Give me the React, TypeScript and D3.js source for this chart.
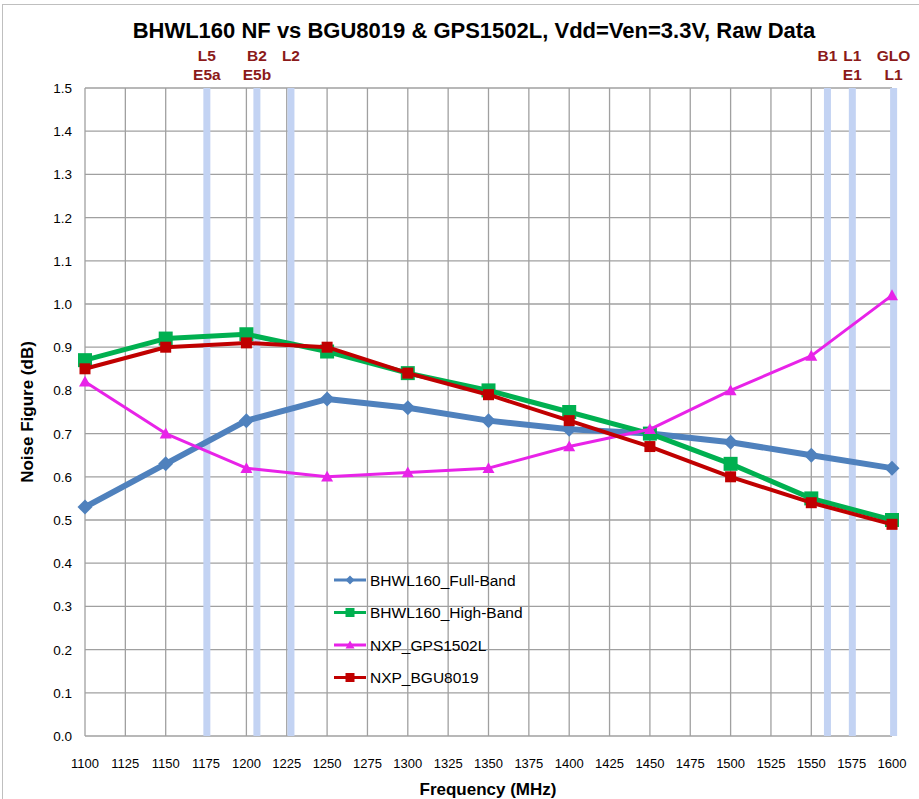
import React from "react";
import * as d3 from "d3";

const freqs = [1100, 1150, 1200, 1250, 1300, 1350, 1400, 1450, 1500, 1550, 1600];
const fullBand = [0.53, 0.63, 0.73, 0.78, 0.76, 0.73, 0.71, 0.7, 0.68, 0.65, 0.62];
const highBand = [0.87, 0.92, 0.93, 0.89, 0.84, 0.8, 0.75, 0.7, 0.63, 0.55, 0.5];
const gps1502 = [0.82, 0.7, 0.62, 0.6, 0.61, 0.62, 0.67, 0.71, 0.8, 0.88, 1.02];
const bgu8019 = [0.85, 0.9, 0.91, 0.9, 0.84, 0.79, 0.73, 0.67, 0.6, 0.54, 0.49];

const bands = [
  { f: 1175.5, label: ["L5", "E5a"] },
  { f: 1206.5, label: ["B2", "E5b"] },
  { f: 1227.6, label: ["L2"] },
  { f: 1560, label: ["B1"] },
  { f: 1575.42, label: ["L1", "E1"] },
  { f: 1601, label: ["GLO", "L1"] },
];

const xTicks = d3.range(1100, 1601, 25);
const yTicks = d3.range(0, 16).map((i) => i / 10);

const W = 919;
const H = 799;
const left = 85;
const right = 892;
const top = 88;
const bottom = 736;

const FONT = "'Liberation Sans', Arial, sans-serif";

type Marker = "diamond" | "square" | "triangle";
const series = [
  { name: "BHWL160_Full-Band", values: fullBand, color: "#4f81bd", width: 6, marker: "diamond" as Marker, size: 15 },
  { name: "BHWL160_High-Band", values: highBand, color: "#00b050", width: 5, marker: "square" as Marker, size: 14 },
  { name: "NXP_GPS1502L", values: gps1502, color: "#e823e8", width: 3, marker: "triangle" as Marker, size: 12 },
  { name: "NXP_BGU8019", values: bgu8019, color: "#c00000", width: 4, marker: "square" as Marker, size: 11 },
];

function markerPath(m: Marker, s: number) {
  const h = s / 2;
  if (m === "diamond") return `M0,${-h}L${h},0L0,${h}L${-h},0Z`;
  if (m === "square") return `M${-h},${-h}H${h}V${h}H${-h}Z`;
  return `M0,${-h}L${h},${h * 0.8}L${-h},${h * 0.8}Z`;
}

export default function App() {
  const x = d3.scaleLinear().domain([1100, 1600]).range([left, right]);
  const y = d3.scaleLinear().domain([0, 1.5]).range([bottom, top]);
  const line = d3
    .line<number>()
    .x((_, i) => x(freqs[i]))
    .y((d) => y(d));

  return (
    <svg
      width={W}
      height={H}
      style={{ position: "absolute", left: 0, top: 0, background: "#fff" }}
      fontFamily={FONT}
    >
      <rect x={2.5} y={4.5} width={W + 10} height={H + 10} fill="#fff" stroke="#bfbfbf" />

      <text x={474} y={38} textAnchor="middle" fontSize={22} fontWeight="bold" fill="#000">
        BHWL160 NF vs BGU8019 &amp; GPS1502L, Vdd=Ven=3.3V,  Raw Data
      </text>

      {/* grid */}
      {xTicks.map((t) => (
        <line key={"gx" + t} x1={x(t)} x2={x(t)} y1={top} y2={bottom} stroke="#a0a0a0" strokeWidth={1.3} />
      ))}
      {yTicks.map((t) => (
        <line key={"gy" + t} x1={left} x2={right} y1={y(t)} y2={y(t)} stroke="#a0a0a0" strokeWidth={1.3} />
      ))}

      {/* bands */}
      {bands.map((b) => (
        <g key={b.f}>
          <rect x={x(b.f) - 3.5} y={top} width={7} height={bottom - top} fill="#c3d3f3" />
          {b.label.map((l, i) => (
            <text
              key={l}
              x={x(b.f)}
              y={61 + i * 19}
              textAnchor="middle"
              fontSize={15.5}
              fontWeight="bold"
              fill="#8b1a1a"
            >
              {l}
            </text>
          ))}
        </g>
      ))}

      {/* axis labels */}
      {yTicks.map((t) => (
        <text key={"yl" + t} x={72} y={y(t) + 5} textAnchor="end" fontSize={13.5} fill="#000">
          {t.toFixed(1)}
        </text>
      ))}
      {xTicks.map((t) => (
        <text key={"xl" + t} x={x(t)} y={768} textAnchor="middle" fontSize={13} fill="#000">
          {t}
        </text>
      ))}
      <text x={488} y={795} textAnchor="middle" fontSize={17} fontWeight="bold">
        Frequency (MHz)
      </text>
      <text
        transform={`translate(33, ${(top + bottom) / 2}) rotate(-90)`}
        textAnchor="middle"
        fontSize={17}
        fontWeight="bold"
      >
        Noise Figure (dB)
      </text>

      {/* series */}
      {series.map((s) => (
        <g key={s.name}>
          <path d={line(s.values) ?? ""} fill="none" stroke={s.color} strokeWidth={s.width} strokeLinejoin="round" />
          {s.values.map((v, i) => (
            <path
              key={i}
              d={markerPath(s.marker, s.size)}
              transform={`translate(${x(freqs[i])},${y(v)})`}
              fill={s.color}
            />
          ))}
        </g>
      ))}

      {/* legend */}
      {series.map((s, i) => {
        const ly = 580 + i * 32.5;
        return (
          <g key={"lg" + s.name}>
            <line x1={334} x2={366} y1={ly} y2={ly} stroke={s.color} strokeWidth={3} />
            <path d={markerPath(s.marker, 9)} transform={`translate(350,${ly})`} fill={s.color} />
            <text x={370} y={ly + 5.5} fontSize={15.5} fill="#000">
              {s.name}
            </text>
          </g>
        );
      })}
    </svg>
  );
}
